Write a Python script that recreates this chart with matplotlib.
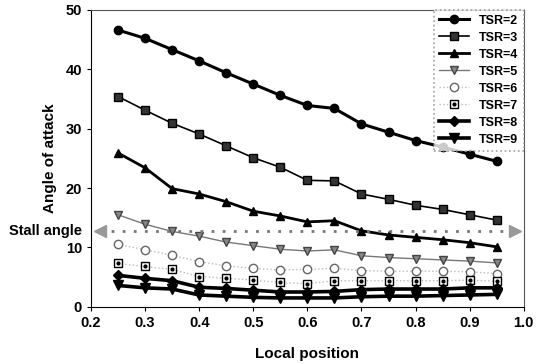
import numpy as np
import matplotlib.pyplot as plt
from matplotlib.legend_handler import HandlerTuple

plt.rcParams['font.family'] = ['Liberation Sans', 'DejaVu Sans']
plt.rcParams['font.weight'] = 'bold'

# local position along the blade
pos = [0.25, 0.30, 0.35, 0.40, 0.45, 0.50, 0.55, 0.60, 0.65, 0.70, 0.75, 0.80, 0.85, 0.90, 0.95]

tsr2 = [46.6, 45.2, 43.3, 41.4, 39.4, 37.5, 35.6, 33.9, 33.4, 30.8, 29.4, 28.0, 26.9, 25.7, 24.5]
tsr3 = [35.4, 33.1, 30.9, 29.1, 27.1, 25.1, 23.5, 21.3, 21.2, 19.0, 18.1, 17.1, 16.4, 15.5, 14.6]
tsr4 = [25.9, 23.4, 19.9, 19.0, 17.7, 16.1, 15.3, 14.3, 14.5, 12.8, 12.1, 11.7, 11.3, 10.8, 10.1]
tsr5 = [15.5, 13.9, 12.7, 11.9, 10.9, 10.3, 9.7, 9.4, 9.6, 8.6, 8.3, 8.1, 7.9, 7.7, 7.4]
tsr6 = [10.5, 9.6, 8.7, 7.6, 6.9, 6.5, 6.2, 6.3, 6.5, 6.1, 6.0, 6.0, 6.0, 5.9, 5.6]
tsr7 = [7.3, 6.8, 6.3, 5.1, 4.8, 4.5, 4.1, 3.9, 4.4, 4.4, 4.4, 4.4, 4.4, 4.5, 4.3]
tsr8 = [5.3, 4.8, 4.4, 3.3, 3.1, 2.8, 2.5, 2.5, 2.6, 2.9, 3.0, 3.0, 3.0, 3.2, 3.2]
tsr9 = [3.6, 3.2, 3.0, 2.0, 1.8, 1.6, 1.5, 1.5, 1.5, 1.7, 1.8, 1.8, 1.9, 2.0, 2.1]

stall_angle = 12.8
stall_x = [0.217, 0.983]

fig = plt.figure(figsize=(5.45, 3.64), dpi=100)
ax = fig.add_axes([0.167, 0.157, 0.794, 0.816])

h2, = ax.plot(pos, tsr2, '-o', color='black', lw=2.2, ms=6)
h3, = ax.plot(pos, tsr3, '-s', color='black', lw=1.2, ms=5.5, mfc='#333333')
h4, = ax.plot(pos, tsr4, '-^', color='black', lw=2.0, ms=6)
h5, = ax.plot(pos, tsr5, '-v', color='#777777', lw=1.0, ms=6, mfc='#888888', mec='#444444')
h6, = ax.plot(pos, tsr6, ':o', color='#bbbbbb', lw=1.0, ms=6, mfc='white', mec='#666666')
h7a, = ax.plot(pos, tsr7, ':s', color='#bbbbbb', lw=1.0, ms=5.5, mfc='white', mec='black')
h7b, = ax.plot(pos, tsr7, 'o', color='black', ms=2, lw=0)
h8, = ax.plot(pos, tsr8, '-D', color='black', lw=2.6, ms=5.5)
h9, = ax.plot(pos, tsr9, '-v', color='black', lw=2.6, ms=6.5)

# stall angle line with arrow heads at both ends
ax.plot(stall_x, [stall_angle, stall_angle], color='#777777', lw=2,
        linestyle=(0, (1, 3)), clip_on=False)
ax.plot(stall_x[0], stall_angle, '<', color='#999999', ms=9, clip_on=False)
ax.plot(stall_x[1], stall_angle, '>', color='#999999', ms=9, clip_on=False)
ax.text(-0.02, stall_angle, 'Stall angle', transform=ax.get_yaxis_transform(),
        ha='right', va='center', fontsize=10.5, fontweight='bold')

ax.set_xlim(0.2, 1.0)
ax.set_ylim(0, 50)
ax.set_xticks(np.arange(0.2, 1.01, 0.1))
ax.set_xticklabels(['0.2', '0.3', '0.4', '0.5', '0.6', '0.7', '0.8', '0.9', '1.0'])
ax.set_yticks([0, 10, 20, 30, 40, 50])
ax.tick_params(labelsize=10.5, length=3, direction='out')
for lab in ax.get_xticklabels() + ax.get_yticklabels():
    lab.set_fontweight('bold')

ax.set_xlabel('Local position', fontsize=11, fontweight='bold', labelpad=12)
ax.set_ylabel('Angle of attack', fontsize=11, fontweight='bold', labelpad=6)

for s in ['top', 'right']:
    ax.spines[s].set_color('#555555')

handles = [h2, h3, h4, h5, h6, (h7a, h7b), h8, h9]
labels = ['TSR=2', 'TSR=3', 'TSR=4', 'TSR=5', 'TSR=6', 'TSR=7', 'TSR=8', 'TSR=9']
leg = ax.legend(handles, labels, loc='upper right', borderaxespad=0, fontsize=9,
                fancybox=False, handlelength=2.4, labelspacing=0.4,
                handler_map={tuple: HandlerTuple(ndivide=1)})
leg.get_frame().set_edgecolor('#888888')
leg.get_frame().set_linestyle(':')
leg.get_frame().set_linewidth(1.2)

fig.savefig('out.png', dpi=100)
